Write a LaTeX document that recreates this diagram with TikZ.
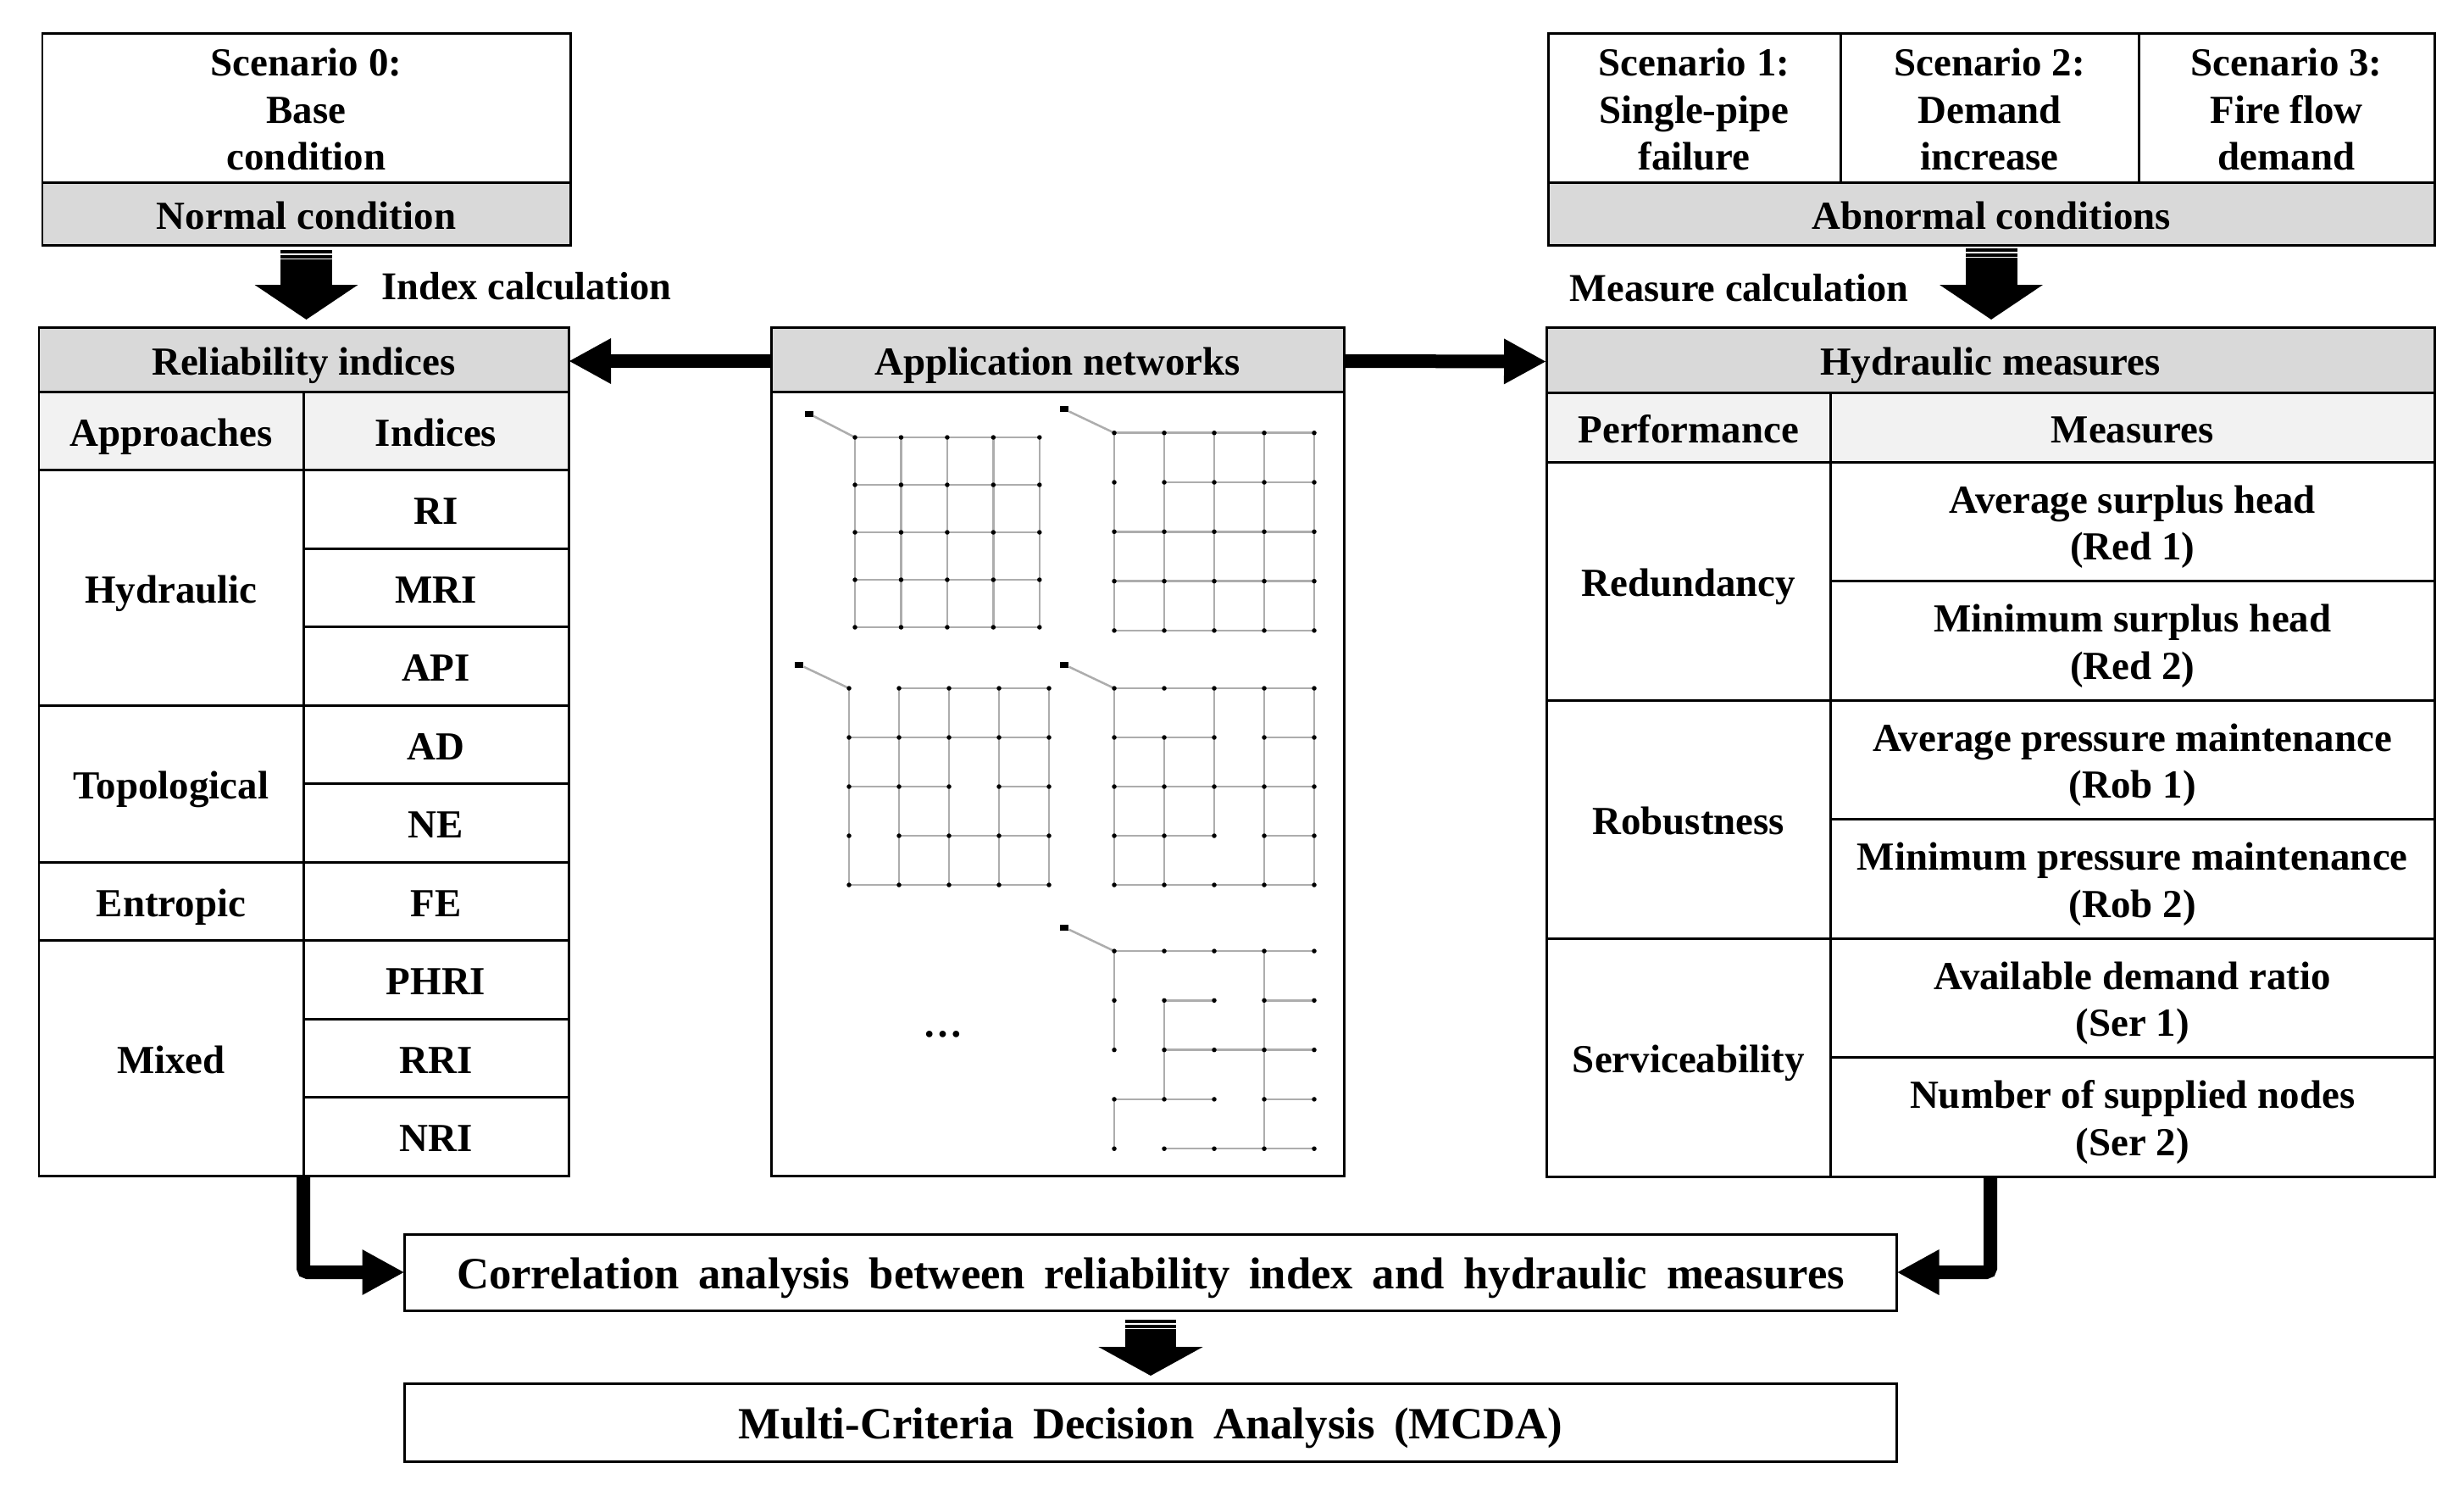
\documentclass[tikz,border=0pt]{standalone}
\usepackage{fontspec}
\usepackage{xcolor}
\usepackage{tikz}
\usetikzlibrary{arrows.meta,positioning}
\setmainfont{Liberation Serif}

\definecolor{headgray}{HTML}{D9D9D9}
\definecolor{subgray}{HTML}{F2F2F2}

% one pipe network: name, x0, y0, dx, dy, horizontal runs, vertical runs
\newcommand{\pipenet}[7]{%
  \foreach \ca in {0,...,4} \foreach \rb in {0,...,4}
    \coordinate (#1-\ca-\rb) at ({#2+\ca*#4},{#3+\rb*#5});
  \node[resv] (#1-tank) at ({#2-#4},{#3-0.28}) {};
  \draw[pipe] (#1-tank) -- (#1-0-0);
  \foreach \ca/\rb/\cc in {#6} \draw[pipe] (#1-\ca-\rb) -- (#1-\cc-\rb);
  \foreach \ca/\rb/\cc in {#7} \draw[pipe] (#1-\ca-\rb) -- (#1-\ca-\cc);
  \foreach \ca in {0,...,4} \foreach \rb in {0,...,4}
    \node[junc] (#1j\ca\rb) at (#1-\ca-\rb) {};
}

\begin{document}
\begin{tikzpicture}[
  x=1cm, y=-1cm,
  font=\bfseries\fontsize{13.35}{15.8}\selectfont,
  cell/.style={draw=black, line width=0.85pt, fill=white, align=center, inner sep=0pt, outer sep=0pt, anchor=north west,
    execute at begin node=\rule{0pt}{15pt}, execute at end node=\strut},
  threeline/.style={cell, execute at begin node=\rule{0pt}{46pt}},
  twoline/.style={cell, execute at begin node=\rule{0pt}{30.5pt}},
  headcell/.style={cell, fill=headgray},
  subcell/.style={cell, fill=subgray},
  wide/.style={cell, font=\bfseries\fontsize{15}{17}\selectfont, execute at begin node={\rule{0pt}{16pt}\spaceskip=0.43em\relax}},
  label/.style={anchor=west, inner sep=0pt, font=\bfseries\fontsize{13.2}{15.8}\selectfont},
  blockarr/.style={-{Triangle[length=4.1mm,width=12mm]}, line width=0.61cm, draw=black,
    postaction={draw=white, -, dash pattern=on 0pt off 0.04cm on 0.015cm off 0.04cm on 0.015cm off 3cm}},
  arr/.style={-{Triangle[length=5mm,width=5mm]}, line width=0.16cm, draw=black, rounded corners=0.05cm},
  pipe/.style={draw=black!32, line width=0.025cm},
  junc/.style={circle, fill=black, inner sep=0pt, minimum size=0.055cm},
  resv/.style={rectangle, fill=black, inner sep=0pt, minimum width=0.1cm, minimum height=0.07cm}
]
\useasboundingbox (0,0) rectangle (29.08,17.51);

% scenarios
\node[threeline, minimum width=6.23cm, minimum height=1.76cm] (base) at (0.50,0.39) {Scenario 0:\\Base\\condition};
\node[headcell, minimum width=6.23cm, minimum height=0.74cm] (normal) at (0.50,2.15) {Normal condition};
\node[threeline, minimum width=3.45cm, minimum height=1.76cm] (scen1) at (18.27,0.39) {Scenario 1:\\Single-pipe\\failure};
\node[threeline, minimum width=3.52cm, minimum height=1.76cm] (scen2) at (21.72,0.39) {Scenario 2:\\Demand\\increase};
\node[threeline, minimum width=3.49cm, minimum height=1.76cm] (scen3) at (25.24,0.39) {Scenario 3:\\Fire flow\\demand};
\node[headcell, minimum width=10.46cm, minimum height=0.74cm] (abnormal) at (18.27,2.15) {Abnormal conditions};

% reliability indices
\node[headcell, minimum width=6.25cm, minimum height=0.76cm] (relhead) at (0.46,3.86) {Reliability indices};
\node[subcell, minimum width=3.12cm, minimum height=0.925cm] (apprhead) at (0.46,4.62) {Approaches};
\node[subcell, minimum width=3.13cm, minimum height=0.925cm] (indhead) at (3.58,4.62) {Indices};
\node[cell, minimum width=3.12cm, minimum height=2.775cm] (hydraulic) at (0.46,5.545) {Hydraulic};
\node[cell, minimum width=3.12cm, minimum height=1.85cm] (topological) at (0.46,8.32) {Topological};
\node[cell, minimum width=3.12cm, minimum height=0.925cm] (entropic) at (0.46,10.17) {Entropic};
\node[cell, minimum width=3.12cm, minimum height=2.775cm] (mixed) at (0.46,11.095) {Mixed};
\node[cell, minimum width=3.13cm, minimum height=0.925cm] (ri) at (3.58,5.545) {RI};
\node[cell, minimum width=3.13cm, minimum height=0.925cm] (mri) at (3.58,6.47) {MRI};
\node[cell, minimum width=3.13cm, minimum height=0.925cm] (api) at (3.58,7.395) {API};
\node[cell, minimum width=3.13cm, minimum height=0.925cm] (ad) at (3.58,8.32) {AD};
\node[cell, minimum width=3.13cm, minimum height=0.925cm] (ne) at (3.58,9.245) {NE};
\node[cell, minimum width=3.13cm, minimum height=0.925cm] (fe) at (3.58,10.17) {FE};
\node[cell, minimum width=3.13cm, minimum height=0.925cm] (phri) at (3.58,11.095) {PHRI};
\node[cell, minimum width=3.13cm, minimum height=0.925cm] (rri) at (3.58,12.02) {RRI};
\node[cell, minimum width=3.13cm, minimum height=0.925cm] (nri) at (3.58,12.945) {NRI};

% application networks
\node[headcell, minimum width=6.76cm, minimum height=0.76cm] (apphead) at (9.10,3.86) {Application networks};
\node[cell, minimum width=6.76cm, minimum height=9.25cm] (appbody) at (9.10,4.62) {};
\pipenet{neta}{10.09}{5.16}{0.5445}{0.56}{0/0/4,0/1/4,0/2/4,0/3/4,0/4/4}{0/0/4,1/0/4,2/0/4,3/0/4,4/0/4}
\pipenet{netb}{13.15}{5.107}{0.59}{0.583}{0/0/4,1/1/4,0/2/4,0/3/4,0/4/4}{0/0/4,1/0/4,2/0/4,3/0/4,4/0/4}
\pipenet{netc}{10.02}{8.12}{0.59}{0.58}{1/0/4,0/1/4,0/2/2,3/2/4,1/3/4,0/4/4}{0/0/4,1/0/4,2/0/4,3/0/4,4/0/4}
\pipenet{netd}{13.15}{8.12}{0.59}{0.58}{0/0/4,0/1/2,3/1/4,0/2/4,0/3/2,3/3/4,0/4/4}{0/0/4,1/1/4,2/0/3,3/0/4,4/0/4}
\pipenet{nete}{13.15}{11.22}{0.59}{0.583}{0/0/4,1/1/2,3/1/4,1/2/4,0/3/2,3/3/4,1/4/4}{0/0/2,0/3/4,1/1/3,3/0/4}
\node[inner sep=0pt] (dots) at (11.13,12.20) {…};

% hydraulic measures
\node[headcell, minimum width=10.48cm, minimum height=0.77cm] (hydhead) at (18.25,3.86) {Hydraulic measures};
\node[subcell, minimum width=3.355cm, minimum height=0.82cm] (perfhead) at (18.25,4.63) {Performance};
\node[subcell, minimum width=7.125cm, minimum height=0.82cm] (meashead) at (21.605,4.63) {Measures};
\node[cell, minimum width=3.355cm, minimum height=2.81cm] (redund) at (18.25,5.45) {Redundancy};
\node[cell, minimum width=3.355cm, minimum height=2.81cm] (robust) at (18.25,8.26) {Robustness};
\node[cell, minimum width=3.355cm, minimum height=2.81cm] (service) at (18.25,11.07) {Serviceability};
\node[twoline, minimum width=7.125cm, minimum height=1.405cm] (red1) at (21.605,5.45) {Average surplus head\\(Red 1)};
\node[twoline, minimum width=7.125cm, minimum height=1.405cm] (red2) at (21.605,6.855) {Minimum surplus head\\(Red 2)};
\node[twoline, minimum width=7.125cm, minimum height=1.405cm] (rob1) at (21.605,8.26) {Average pressure maintenance\\(Rob 1)};
\node[twoline, minimum width=7.125cm, minimum height=1.405cm] (rob2) at (21.605,9.665) {Minimum pressure maintenance\\(Rob 2)};
\node[twoline, minimum width=7.125cm, minimum height=1.405cm] (ser1) at (21.605,11.07) {Available demand ratio\\(Ser 1)};
\node[twoline, minimum width=7.125cm, minimum height=1.405cm] (ser2) at (21.605,12.475) {Number of supplied nodes\\(Ser 2)};

% analysis boxes
\node[wide, minimum width=17.61cm, minimum height=0.90cm] (corr) at (4.775,14.56) {Correlation analysis between reliability index and hydraulic measures};
\node[wide, minimum width=17.61cm, minimum height=0.92cm] (mcda) at (4.775,16.32) {Multi-Criteria Decision Analysis (MCDA)};

\node[label] (indcalc) at (4.50,3.38) {Index calculation};
\node[label] (meascalc) at (18.52,3.40) {Measure calculation};

\draw[blockarr, shorten <=0.06cm, shorten >=0.09cm] (normal.south) -- (normal.south |- relhead.north);
\draw[blockarr, shorten <=0.04cm, shorten >=0.09cm] (abnormal.south) -- (abnormal.south |- hydhead.north);
\draw[blockarr, -{Triangle[length=3.4mm,width=12.2mm]}, line width=0.6cm, shorten <=0.11cm, shorten >=0.09cm] (corr.south) -- (mcda.north);
\draw[arr] ([yshift=-0.02cm]apphead.west) -- ([yshift=-0.02cm]relhead.east);
\draw[arr] ([yshift=-0.02cm]apphead.east) -- ([yshift=-0.02cm]hydhead.west);
\draw[arr] (mixed.south east) |- (corr.west);
\draw[arr] (hydhead.south |- ser2.south) |- (corr.east);
\end{tikzpicture}
\end{document}
